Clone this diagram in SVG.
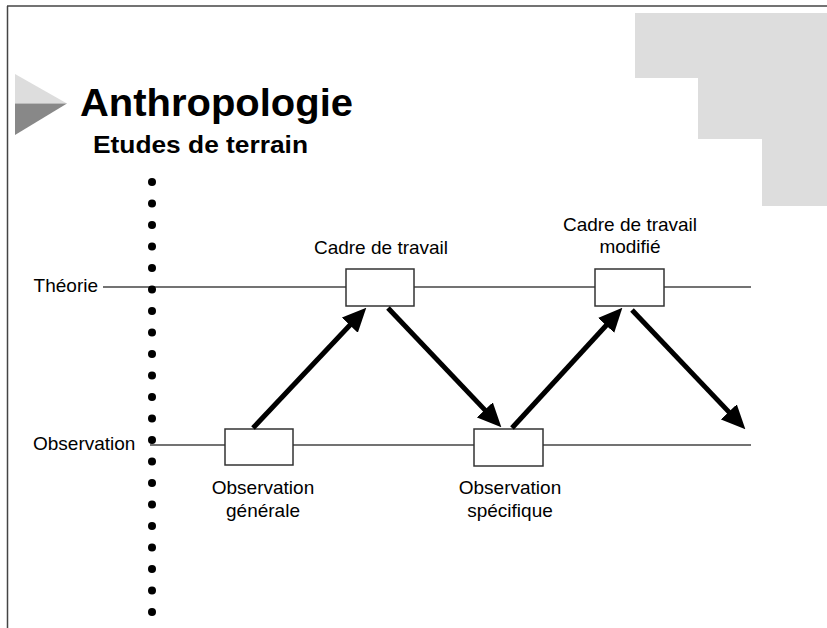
<svg xmlns="http://www.w3.org/2000/svg" width="827" height="628" viewBox="0 0 827 628">
  <style>
    .frame { stroke: #444; stroke-width: 1.5; fill: none; }
    .axis { stroke: #444; stroke-width: 1.3; fill: none; }
    .box { fill: #fff; stroke: #333; stroke-width: 1.5; }
    .lbl { font-family: "Liberation Sans", Arial, sans-serif; font-size: 19px; fill: #000; }
    .mid { text-anchor: middle; }
    .title { font-family: "Liberation Sans", Arial, sans-serif; font-weight: bold; fill: #000; }
    .arrow { stroke: #000; stroke-width: 5; fill: none; marker-end: url(#head); }
    .dot { fill: #000; }
  </style>
  <defs>
    <marker id="head" markerUnits="userSpaceOnUse" viewBox="0 -11 24 22" markerWidth="24" markerHeight="22" refX="1" refY="0" orient="auto">
      <path d="M0,-11 L24,0 L0,11 z" fill="#000"/>
    </marker>
  </defs>

  <!-- page frame -->
  <line class="frame" x1="7" y1="6" x2="827" y2="6"/>
  <line class="frame" x1="7.5" y1="6" x2="7.5" y2="628"/>

  <!-- decorative staircase -->
  <polygon points="635,13 827,13 827,206 762,206 762,139 698,139 698,78 635,78" fill="#dddddd"/>

  <!-- title triangle -->
  <polygon points="15,74 67,103.5 15,103.5" fill="#dddddd"/>
  <polygon points="15,103.5 67,103.5 15,135" fill="#888888"/>

  <text class="title" x="80" y="116" font-size="39" textLength="273" lengthAdjust="spacingAndGlyphs">Anthropologie</text>
  <text class="title" x="93" y="153" font-size="24" textLength="215" lengthAdjust="spacingAndGlyphs">Etudes de terrain</text>

  <!-- axes -->
  <g id="axes">
    <line class="axis" x1="103" y1="287" x2="346" y2="287"/>
    <line class="axis" x1="414" y1="287" x2="595" y2="287"/>
    <line class="axis" x1="664" y1="287" x2="751" y2="287"/>
    <line class="axis" x1="150" y1="445" x2="225" y2="445"/>
    <line class="axis" x1="293" y1="445" x2="474" y2="445"/>
    <line class="axis" x1="543" y1="445" x2="751" y2="445"/>
  </g>

  <g id="label-theorie">
    <text class="lbl" x="98" y="292" text-anchor="end">Théorie</text>
  </g>
  <g id="label-observation">
    <text class="lbl" x="33" y="450">Observation</text>
  </g>

  <!-- dotted separator -->
  <g id="separator">
    <circle class="dot" cx="152" cy="182" r="4"/>
    <circle class="dot" cx="152" cy="203.5" r="4"/>
    <circle class="dot" cx="152" cy="225" r="4"/>
    <circle class="dot" cx="152" cy="246.5" r="4"/>
    <circle class="dot" cx="152" cy="268" r="4"/>
    <circle class="dot" cx="152" cy="289.5" r="4"/>
    <circle class="dot" cx="152" cy="311" r="4"/>
    <circle class="dot" cx="152" cy="332.5" r="4"/>
    <circle class="dot" cx="152" cy="354" r="4"/>
    <circle class="dot" cx="152" cy="375.5" r="4"/>
    <circle class="dot" cx="152" cy="397" r="4"/>
    <circle class="dot" cx="152" cy="418.5" r="4"/>
    <circle class="dot" cx="152" cy="440" r="4"/>
    <circle class="dot" cx="152" cy="461.5" r="4"/>
    <circle class="dot" cx="152" cy="483" r="4"/>
    <circle class="dot" cx="152" cy="504.5" r="4"/>
    <circle class="dot" cx="152" cy="526" r="4"/>
    <circle class="dot" cx="152" cy="547.5" r="4"/>
    <circle class="dot" cx="152" cy="569" r="4"/>
    <circle class="dot" cx="152" cy="590.5" r="4"/>
    <circle class="dot" cx="152" cy="612" r="4"/>
  </g>

  <!-- nodes -->
  <g id="cadre">
    <rect class="box" x="346" y="269" width="68" height="37"/>
    <text class="lbl mid" x="381" y="254">Cadre de travail</text>
  </g>
  <g id="cadre-modifie">
    <rect class="box" x="595" y="269" width="69" height="37"/>
    <text class="lbl mid" x="630" y="231">Cadre de travail</text>
    <text class="lbl mid" x="630" y="253">modifié</text>
  </g>
  <g id="obs-generale">
    <rect class="box" x="225" y="429" width="68" height="36"/>
    <text class="lbl mid" x="263" y="494">Observation</text>
    <text class="lbl mid" x="263" y="517">générale</text>
  </g>
  <g id="obs-specifique">
    <rect class="box" x="474" y="429" width="69" height="37"/>
    <text class="lbl mid" x="510" y="494">Observation</text>
    <text class="lbl mid" x="510" y="517">spécifique</text>
  </g>

  <!-- connectors -->
  <g id="connectors">
    <line class="arrow" x1="253" y1="428" x2="350.5" y2="324.5"/>
    <line class="arrow" x1="388" y1="308" x2="485.5" y2="410.6"/>
    <line class="arrow" x1="512" y1="428" x2="606.8" y2="324.7"/>
    <line class="arrow" x1="632" y1="310" x2="729.5" y2="412.6"/>
  </g>
</svg>
